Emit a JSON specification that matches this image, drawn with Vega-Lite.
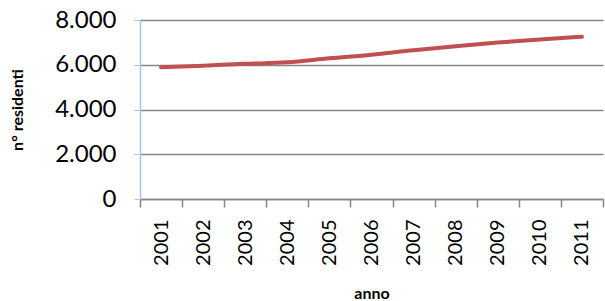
{
  "$schema": "https://vega.github.io/schema/vega-lite/v6.json",
  "width": 463,
  "height": 179,
  "autosize": {"type": "none"},
  "padding": {"left": 140, "top": 20, "right": 2, "bottom": 102},
  "background": "white",
  "config": {"view": {"stroke": null}, "font": "Lato"},
  "data": {"values": [
    {"anno": "2001", "residenti": 5890},
    {"anno": "2002", "residenti": 5960},
    {"anno": "2003", "residenti": 6040},
    {"anno": "2004", "residenti": 6110},
    {"anno": "2005", "residenti": 6290},
    {"anno": "2006", "residenti": 6450},
    {"anno": "2007", "residenti": 6650},
    {"anno": "2008", "residenti": 6830},
    {"anno": "2009", "residenti": 6990},
    {"anno": "2010", "residenti": 7130},
    {"anno": "2011", "residenti": 7250}
  ]},
  "mark": {"type": "line", "color": "#C0504D", "strokeWidth": 4, "strokeCap": "round", "interpolate": "monotone"},
  "encoding": {
    "x": {
      "field": "anno", "type": "ordinal",
      "scale": {"paddingInner": 0, "paddingOuter": 0},
      "axis": {
        "title": "anno", "titleFontWeight": "bold", "titleFontSize": 16, "titleColor": "#000", "titlePadding": 20,
        "labelAngle": -90, "labelAlign": "right", "labelBaseline": "middle", "labelFontSize": 20, "labelColor": "#000", "labelPadding": 12,
        "tickBand": "extent", "tickSize": 8, "tickColor": "#868686", "domainColor": "#868686", "domainWidth": 1.5, "tickWidth": 1.5
      }
    },
    "y": {
      "field": "residenti", "type": "quantitative",
      "scale": {"domain": [0, 8000], "nice": false},
      "axis": {
        "title": "n° residenti", "titleFontWeight": "bold", "titleFontSize": 16, "titleColor": "#000", "titlePadding": 29,
        "values": [0, 2000, 4000, 6000, 8000], "format": ",d", "labelFontSize": 24, "labelColor": "#000", "labelPadding": 18,
        "labelExpr": "replace(datum.label, ',', '.')",
        "tickSize": 6, "tickColor": "#A6C1EB", "domainColor": "#A6C1EB", "domainWidth": 1.5,
        "grid": true, "gridColor": "#868686", "gridWidth": 1.5
      }
    }
  }
}
